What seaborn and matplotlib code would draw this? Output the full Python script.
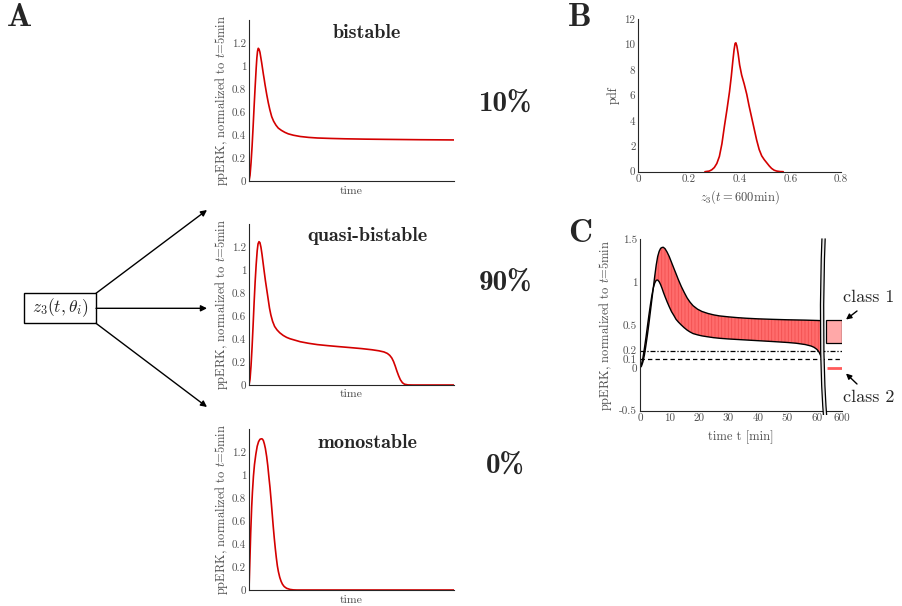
import numpy as np
import pandas as pd
import matplotlib
matplotlib.use("Agg")
import matplotlib.pyplot as plt
import seaborn as sns
from matplotlib.patches import Rectangle, FancyArrowPatch, PathPatch
from matplotlib.path import Path

# ---------------- data ----------------
# Panel A: example trajectories (arbitrary time units 0..60)
t_bistable = [0, 0.3, 0.6, 0.9, 1.2, 1.5, 1.8, 2.1, 2.3, 2.5, 2.72, 2.95, 3.2, 3.45, 3.7,
              3.95, 4.2, 4.45, 4.68, 5.2, 5.65, 6.1, 6.64, 7.2, 7.9, 8.57, 9.5, 10.5, 11.5,
              13, 15, 17.5, 20, 24, 28, 34, 40, 50, 60]
y_bistable = [0, 0.05, 0.16, 0.30, 0.47, 0.65, 0.82, 0.98, 1.07, 1.13, 1.154, 1.145, 1.12,
              1.075, 1.03, 0.98, 0.93, 0.885, 0.84, 0.75, 0.68, 0.62, 0.56, 0.52, 0.485,
              0.46, 0.44, 0.423, 0.41, 0.398, 0.387, 0.379, 0.374, 0.37, 0.367, 0.364,
              0.362, 0.359, 0.357]

t_quasi = [0, 0.3, 0.6, 0.9, 1.2, 1.5, 1.8, 2.1, 2.4, 2.65, 2.93, 3.2, 3.5, 3.8, 4.1, 4.4,
           4.8, 5.2, 5.65, 6.0, 6.4, 6.9, 7.5, 8.2, 9, 10, 11, 12, 13.5, 15, 17.5, 20, 23,
           26, 29.6, 33, 36, 38, 39.5, 40.5, 41.2, 41.8, 42.3, 42.8, 43.3, 43.8, 44.3,
           44.9, 45.5, 46.5, 48, 60]
y_quasi = [0, 0.05, 0.17, 0.33, 0.52, 0.72, 0.90, 1.05, 1.17, 1.23, 1.249, 1.24, 1.20,
           1.14, 1.07, 1.00, 0.91, 0.83, 0.74, 0.67, 0.61, 0.555, 0.51, 0.48, 0.455, 0.432,
           0.415, 0.403, 0.39, 0.377, 0.363, 0.352, 0.343, 0.335, 0.326, 0.317, 0.307,
           0.298, 0.288, 0.275, 0.258, 0.235, 0.205, 0.165, 0.12, 0.08, 0.046, 0.02,
           0.007, 0.001, 0, 0]

t_mono = [0, 0.15, 0.3, 0.5, 0.78, 1.0, 1.3, 1.6, 2.0, 2.4, 2.8, 3.2, 3.6, 3.9, 4.2, 4.5,
          4.8, 5.17, 5.5, 5.8, 6.15, 6.5, 6.8, 7.1, 7.4, 7.7, 8.0, 8.3, 8.6, 9.0, 9.4,
          9.8, 10.3, 11, 12, 13, 14, 60]
y_mono = [0, 0.15, 0.30, 0.50, 0.72, 0.85, 0.99, 1.09, 1.18, 1.25, 1.29, 1.31, 1.315,
          1.313, 1.30, 1.27, 1.23, 1.16, 1.08, 0.99, 0.89, 0.77, 0.66, 0.55, 0.45, 0.36,
          0.28, 0.21, 0.16, 0.11, 0.075, 0.05, 0.03, 0.015, 0.005, 0.001, 0, 0]

class_names = ["bistable", "quasi-bistable", "monostable"]
class_share = ["10%", "90%", "0%"]

# Panel B: pdf of z3(t=600min)
z_vals = [0.263, 0.28, 0.29, 0.30, 0.31, 0.32, 0.33, 0.34, 0.35, 0.36, 0.367, 0.373,
          0.378, 0.382, 0.385, 0.389, 0.394, 0.40, 0.408, 0.418, 0.428, 0.437, 0.447,
          0.457, 0.467, 0.477, 0.487, 0.497, 0.507, 0.517, 0.526, 0.536, 0.546, 0.56,
          0.572]
pdf_vals = [0, 0.05, 0.15, 0.33, 0.65, 1.2, 2.2, 3.6, 4.9, 6.3, 7.5, 8.7, 9.6, 10.1,
            10.15, 9.9, 9.3, 8.4, 7.6, 6.9, 6.1, 5.2, 4.3, 3.4, 2.5, 1.75, 1.25, 0.95,
            0.7, 0.45, 0.26, 0.12, 0.05, 0.01, 0]

# Panel C: envelope of trajectories (time in min)
t_env = [0, 0.5, 1, 1.5, 2, 2.5, 3, 3.5, 4, 4.5, 5, 5.5, 6, 6.5, 7, 7.5, 7.9, 8.5, 9.2,
         9.9, 10.7, 11.5, 12.2, 13, 14, 15, 16, 17, 18, 19.5, 21, 23, 25, 27, 30, 33, 36,
         40, 45, 50, 53, 56, 58, 59, 60, 60.7, 61.3, 61.8, 62.2]
env_upper = [0, 0.02, 0.07, 0.15, 0.26, 0.38, 0.51, 0.65, 0.79, 0.93, 1.07, 1.20, 1.30,
             1.36, 1.395, 1.405, 1.407, 1.39, 1.35, 1.30, 1.23, 1.16, 1.10, 1.03, 0.95,
             0.88, 0.815, 0.765, 0.725, 0.685, 0.658, 0.635, 0.618, 0.606, 0.595, 0.586,
             0.579, 0.572, 0.566, 0.561, 0.559, 0.557, 0.555, 0.554, 0.553, 0.552, 0.551,
             0.55, 0.55]
env_lower = [0, 0.04, 0.12, 0.23, 0.35, 0.48, 0.61, 0.73, 0.84, 0.93, 0.99, 1.022, 1.025,
             1.005, 0.97, 0.925, 0.885, 0.83, 0.77, 0.714, 0.655, 0.61, 0.567, 0.535, 0.50,
             0.468, 0.44, 0.418, 0.40, 0.385, 0.373, 0.362, 0.352, 0.345, 0.337, 0.331,
             0.325, 0.317, 0.307, 0.296, 0.287, 0.272, 0.255, 0.24, 0.215, 0.185, 0.14,
             0.095, 0.06]
thresholds = [0.2, 0.1]
class1_range = [0.287, 0.553]   # at t = 600 min
class2_level = 0.0
c_xticks = [0, 10, 20, 30, 40, 50, 60, 68.5]
c_xticklabels = ["0", "10", "20", "30", "40", "50", "60", "600"]
c_yticks = [-0.5, 0, 0.1, 0.2, 0.5, 1, 1.5]
c_yticklabels = ["-0.5", "0", "0.1", "0.2", "0.5", "1", "1.5"]

# ---------------- style ----------------
sns.set_style("white")
plt.rcParams["font.family"] = ["cmr10", "DejaVu Serif"]
plt.rcParams["mathtext.fontset"] = "cm"
plt.rcParams["axes.formatter.use_mathtext"] = True
plt.rcParams["axes.unicode_minus"] = False
plt.rcParams["hatch.linewidth"] = 0.6

W, H = 902, 606
fig = plt.figure(figsize=(W / 100, H / 100), dpi=100)
fig.patch.set_facecolor("white")


def fx(x):
    return x / W


def fy(y):
    return 1 - y / H


def axes_px(left, top, right, bottom):
    return fig.add_axes([fx(left), fy(bottom), (right - left) / W, (bottom - top) / H])


RED = "#d40000"
TICKC = "#4d4d4d"


def style(ax):
    for s in ["top", "right"]:
        ax.spines[s].set_visible(False)
    for s in ["left", "bottom"]:
        ax.spines[s].set_color("#262626")
        ax.spines[s].set_linewidth(0.8)
    ax.tick_params(direction="in", length=3, width=0.6, colors="#262626",
                   labelcolor=TICKC, labelsize=8, pad=2)
    ax.set_facecolor("none")
    ax.grid(False)


YLAB = r"ppERK, normalized to $t$=5min"

# ---------------- Panel A ----------------
a_boxes = [(249, 20, 454, 181), (249, 224.3, 454, 385), (249, 429, 454, 590)]
a_data = [(t_bistable, y_bistable), (t_quasi, y_quasi), (t_mono, y_mono)]
title_y = [33, 236, 443]
pct_y = [104, 283, 466]
for box, (tt, yy), name, pct, ty, py in zip(a_boxes, a_data, class_names, class_share,
                                           title_y, pct_y):
    ax = axes_px(*box)
    sns.lineplot(x=tt, y=yy, ax=ax, color=RED, linewidth=1.2)
    ax.set_xlim(0, 60)
    ax.set_ylim(0, 1.4)
    ax.set_xticks([0, 20, 40, 60])
    ax.set_xticklabels([])
    ax.set_yticks([0, 0.2, 0.4, 0.6, 0.8, 1.0, 1.2])
    ax.set_yticklabels(["0", "0.2", "0.4", "0.6", "0.8", "1", "1.2"])
    style(ax)
    ax.set_xlabel("time", fontsize=8.5, color=TICKC)
    ax.set_ylabel(YLAB, fontsize=9, color=TICKC)
    ax.xaxis.set_label_coords(0.5, -0.031)
    ax.yaxis.set_label_coords(-0.095, 0.5)
    fig.text(fx(367), fy(ty), name, ha="center", va="center",
             fontfamily="cmb10", fontsize=14.5)
    fig.text(fx(505), fy(py), pct, ha="center", va="center",
             fontfamily="cmb10", fontsize=21)

# box with z3 and arrows
fig.add_artist(Rectangle((fx(24.3), fy(323.3)), (96 - 24.3) / W, 30 / H,
                         transform=fig.transFigure, fill=False, ec="k", lw=1.0))
fig.text(fx(60), fy(308), r"$z_3(t,\theta_i)$", ha="center", va="center", fontsize=12.5)
for (x0, y0), (x1, y1) in [((96, 293.3), (207, 210)), ((96, 308.3), (207, 308.3)),
                           ((96, 323.3), (207, 407))]:
    fig.add_artist(FancyArrowPatch((fx(x0), fy(y0)), (fx(x1), fy(y1)),
                                   transform=fig.transFigure, arrowstyle="-|>",
                                   mutation_scale=9, lw=1.0, color="k",
                                   shrinkA=0, shrinkB=0))

# ---------------- Panel B ----------------
axB = axes_px(638.3, 19.3, 841, 171.7)
sns.lineplot(x=z_vals, y=pdf_vals, ax=axB, color=RED, linewidth=1.2)
axB.set_xlim(0, 0.8)
axB.set_ylim(0, 12)
axB.set_xticks([0, 0.2, 0.4, 0.6, 0.8])
axB.set_xticklabels(["0", "0.2", "0.4", "0.6", "0.8"])
axB.set_yticks([0, 2, 4, 6, 8, 10, 12])
axB.set_yticklabels(["0", "2", "4", "6", "8", "10", "12"])
style(axB)
axB.set_xlabel(r"$z_3(t=600\mathrm{min})$", fontsize=9, color=TICKC)
axB.set_ylabel("pdf", fontsize=9, color=TICKC)
axB.xaxis.set_label_coords(0.5, -0.107)
axB.yaxis.set_label_coords(-0.093, 0.5)

# ---------------- Panel C ----------------
axC = axes_px(640, 239.3, 842, 410.7)
axC.fill_between(t_env, env_lower, env_upper, facecolor="#ff6c6c", edgecolor="#f25050",
                 hatch="|||||", linewidth=0, zorder=1)
sns.lineplot(x=t_env, y=env_upper, ax=axC, color="k", linewidth=1.0)
sns.lineplot(x=t_env, y=env_lower, ax=axC, color="k", linewidth=1.0)
axC.axhline(thresholds[0], color="k", lw=0.9, ls=(0, (4, 1.5, 1, 1.5)), zorder=2)
axC.axhline(thresholds[1], color="k", lw=0.9, ls=(0, (3.5, 2.5)), zorder=2)
axC.add_patch(Rectangle((63.0, class1_range[0]), 68.5 - 63.0,
                        class1_range[1] - class1_range[0],
                        facecolor="#ffa8a8", edgecolor="k", lw=0.9, zorder=3))
axC.plot([63.4, 68.5], [class2_level, class2_level], color="#ff5a5a", lw=2.0,
         solid_capstyle="butt", zorder=3)
axC.set_xlim(0, 68.5)
axC.set_ylim(-0.5, 1.5)
axC.set_xticks(c_xticks)
axC.set_xticklabels(c_xticklabels)
axC.set_yticks(c_yticks)
axC.set_yticklabels(c_yticklabels)
style(axC)
axC.set_xlabel("time t [min]", fontsize=9, color=TICKC)
axC.set_ylabel(YLAB, fontsize=9, color=TICKC)
axC.xaxis.set_label_coords(0.5, -0.117)
axC.yaxis.set_label_coords(-0.129, 0.5)

# axis break (decoration)
L = [(61.7, 1.51), (61.0, 0.9), (60.9, 0.0), (62.2, -0.55)]
R = [(x + 1.1, y) for x, y in L]
verts = L + [R[3]] + [R[2], R[1], R[0]] + [L[0]]
codes = [Path.MOVETO, Path.CURVE4, Path.CURVE4, Path.CURVE4, Path.LINETO,
         Path.CURVE4, Path.CURVE4, Path.CURVE4, Path.CLOSEPOLY]
axC.add_patch(PathPatch(Path(verts, codes), facecolor="#e8e8e8", edgecolor="none",
                        clip_on=False, zorder=5))
for side in (L, R):
    axC.add_patch(PathPatch(Path(side, [Path.MOVETO, Path.CURVE4, Path.CURVE4, Path.CURVE4]),
                            facecolor="none", edgecolor="k", lw=0.9, clip_on=False,
                            zorder=6))

# class annotations
fig.text(fx(843), fy(297), "class 1", ha="left", va="center", fontsize=13)
fig.text(fx(843), fy(397), "class 2", ha="left", va="center", fontsize=13)
fig.add_artist(FancyArrowPatch((fx(857), fy(311)), (fx(846), fy(319.5)),
                               transform=fig.transFigure, arrowstyle="-|>",
                               mutation_scale=8, lw=1.0, color="k", shrinkA=0, shrinkB=0))
fig.add_artist(FancyArrowPatch((fx(857), fy(384)), (fx(846), fy(373.5)),
                               transform=fig.transFigure, arrowstyle="-|>",
                               mutation_scale=8, lw=1.0, color="k", shrinkA=0, shrinkB=0))

# panel letters
for letter, (x, y) in zip("ABC", [(19, 18), (580, 17), (580, 233)]):
    fig.text(fx(x), fy(y), letter, ha="center", va="center", fontfamily="cmb10",
             fontsize=24)

fig.savefig("out.png", dpi=100, facecolor="white")
